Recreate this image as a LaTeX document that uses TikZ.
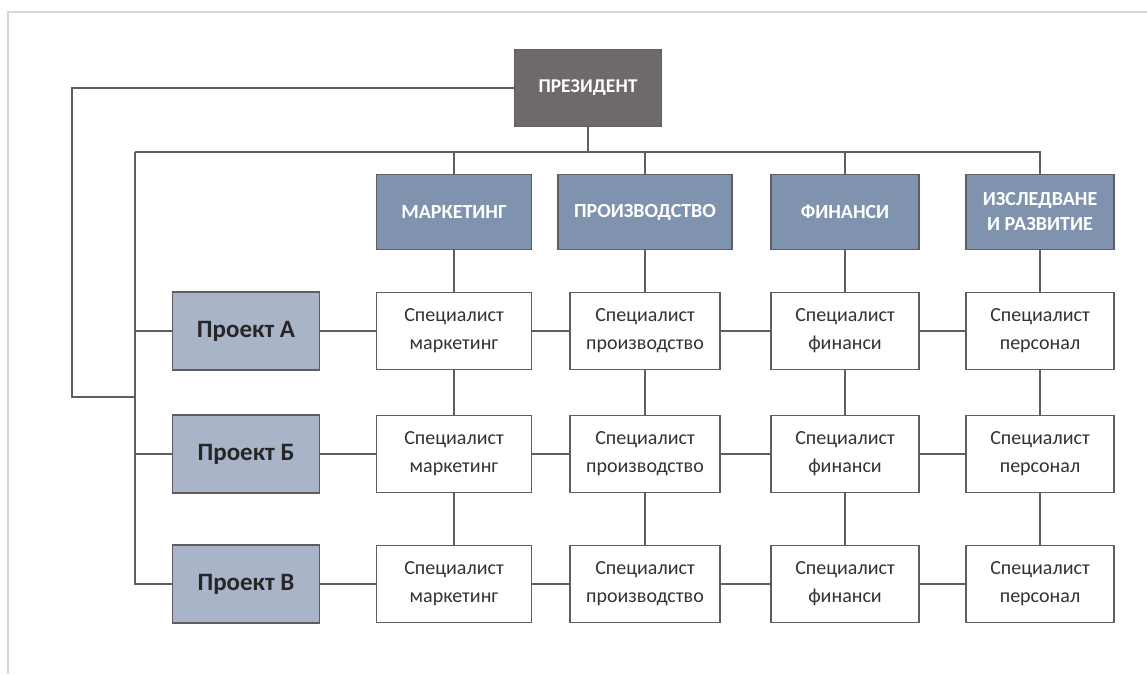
\documentclass[tikz,border=0pt]{standalone}
\usepackage{fontspec}
\setmainfont{Carlito}

\definecolor{presgray}{HTML}{6E6A69}
\definecolor{deptblue}{HTML}{7F93AE}
\definecolor{projblue}{HTML}{AAB4C8}
\definecolor{linegray}{HTML}{5E5E5E}
\definecolor{framegray}{HTML}{D8D8D8}

\def\busy{152}
\def\busx{135}

\begin{document}
\begin{tikzpicture}[x=1pt,y=-1pt,line width=1.6pt,draw=linegray]
    \tikzstyle{box}=[rectangle, draw=linegray, line width=1.6pt, align=center, inner sep=0pt]
    \tikzstyle{pres box}=[box, fill=presgray, minimum width=147pt, minimum height=77pt,
        text=white, font=\fontsize{19.5}{25}\selectfont\bfseries]
    \tikzstyle{dept box}=[box, fill=deptblue, minimum height=75pt,
        text=white, font=\fontsize{20}{25}\selectfont\bfseries]
    \tikzstyle{proj box}=[box, fill=projblue, minimum width=147pt, minimum height=78pt,
        text=black!85, font=\fontsize{25}{28}\selectfont\bfseries]
    \tikzstyle{spec box}=[box, fill=white, minimum height=77pt,
        text=black!80, font=\fontsize{20}{28}\selectfont]
    \tikzstyle{link}=[draw=linegray, line width=1.6pt]

    \useasboundingbox (0,0) rectangle (1147,674);

    % Frame of the slide
    \draw[framegray, line width=1.4pt] (1147,12) -- (8,12) -- (8,674);

    % President
    \node[pres box] (pres) at (588,88) {ПРЕЗИДЕНТ};

    % Departments
    \foreach \name / \x / \w / \txt in {mk/454/155/МАРКЕТИНГ, pr/645/174/ПРОИЗВОДСТВО,
                                      fn/845/148/ФИНАНСИ, ps/1040/148/ИЗСЛЕДВАНЕ\\И РАЗВИТИЕ}
        \node[dept box, minimum width=\w pt] (D-\name) at (\x,212) {\txt};

    % Projects
    \foreach \row / \y / \txt in {A/331/Проект А, B/454/Проект Б, C/584/Проект В}
        \node[proj box] (P-\row) at (246,\y) {\txt};

    % Specialists
    \foreach \row / \y in {A/331, B/454, C/584}
        \foreach \name / \x / \w / \txt in {mk/454/155/маркетинг, pr/645/150/производство,
                                           fn/845/148/финанси, ps/1040/148/персонал}
            \node[spec box, minimum width=\w pt] (S\row-\name) at (\x,\y) {Специалист\\\txt};

    % Bus under the president
    \coordinate (busL) at (\busx,\busy);
    \coordinate (busR) at (D-ps.north |- busL);
    \draw[link] (pres.south) -- (pres.south |- busL);
    \draw[link] (busL) -- (busR) -- (D-ps.north);
    \foreach \name in {mk,pr,fn}
        \draw[link] (D-\name.north |- busL) -- (D-\name.north);

    % Bus to the projects
    \draw[link] (busL) |- (P-C.west);
    \foreach \row in {A,B}
        \draw[link] (busL |- P-\row.west) -- (P-\row.west);

    % President to the project bus
    \coordinate (loop) at (72,397);
    \draw[link] (pres.west) -| (loop) -- (loop -| busL);

    % Departments down the columns
    \foreach \name in {mk,pr,fn,ps} {
        \draw[link] (D-\name.south) -- (SA-\name.north);
        \draw[link] (SA-\name.south) -- (SB-\name.north);
        \draw[link] (SB-\name.south) -- (SC-\name.north);
    }

    % Projects along the rows
    \foreach \row in {A,B,C}
        \draw[link] (P-\row.east) -- (S\row-mk.west)
                    (S\row-mk.east) -- (S\row-pr.west)
                    (S\row-pr.east) -- (S\row-fn.west)
                    (S\row-fn.east) -- (S\row-ps.west);
\end{tikzpicture}
\end{document}
